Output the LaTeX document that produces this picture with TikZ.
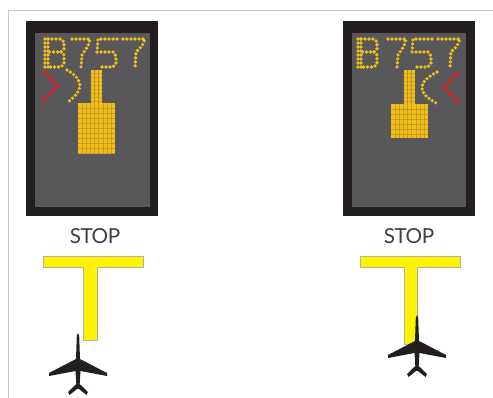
\documentclass[tikz,border=0pt]{standalone}
\usepackage{fontspec}
\setmainfont{Lato}
\definecolor{amber}{HTML}{F2BE1A}
\definecolor{amberdark}{HTML}{B8901E}
\definecolor{panelgray}{HTML}{58585A}
\definecolor{framedark}{HTML}{231F20}
\definecolor{stopyellow}{HTML}{FFF200}
\definecolor{chevred}{HTML}{D9202E}
\tikzset{
  dots/.style={amber,line width=2.7,line cap=round,dash pattern=on 0pt off 3pt},
  redline/.style={chevred,line width=1.3},
  reddots/.style={chevred,line width=3,line cap=round,dash pattern=on 0pt off 7pt},
  gridline/.style={amberdark,line width=0.5},
  stoplabel/.style={font=\fontsize{15.5}{15.5}\selectfont\addfontfeatures{LetterSpace=-2},text=black!75,inner sep=0pt},
  planefill/.style={fill=framedark,draw=none}
}
\newcommand{\signpanel}[1]{%
  \fill[framedark] (#1,21) rectangle ++(132,195.5);
  \fill[panelgray] (#1+9,33) rectangle ++(114.5,174);
}
\newcommand{\digits}[4]{%
  % B
  \draw[dots] (#1+1,39)--(#1+1,67);
  \draw[dots] (#1+4,39)--(#1+4,67);
  \draw[dots] (#1+4,39)--(#1+17,39)--(#1+20,42)--(#1+20,49)--(#1+17,52)--(#1+4,52);
  \draw[dots] (#1+17,52)--(#1+20,55)--(#1+20,64)--(#1+17,67)--(#1+4,67);
  % 7
  \draw[dots] (#2,39)--(#2+18,39)--(#2+16,46)--(#2+10,55)--(#2+9,67);
  % 5
  \draw[dots] (#3+22,39)--(#3+3,39)--(#3+2,52)--(#3+18,52)--(#3+21,56)--(#3+21,63)--(#3+18,67)--(#3+6,67);
  % 7
  \draw[dots] (#4,39)--(#4+22,39)--(#4+19,46)--(#4+13,52)--(#4+12,68);
}
\newcommand{\stand}[3]{%
  \fill[amber] (#1,70) rectangle (#1+11,#2);
  \foreach \dx in {3.6,7.3}{\draw[gridline] (#1+\dx,70)--(#1+\dx,#2);}
  \foreach \dy in {73,77,...,101}{\draw[gridline,opacity=.5] (#1,\dy)--(#1+11,\dy);}
  \fill[amber] (#1-13,#2) rectangle (#1+24,#3);
  \foreach \dx in {-9,-5,-1,3.6,7.3,12,16,20}{\draw[gridline,opacity=.7] (#1+\dx,#2)--(#1+\dx,#3);}
  \foreach \dy in {5,10,...,50}{\ifdim \dy pt<\dimexpr #3pt-#2pt\relax
     \draw[gridline,opacity=.7] (#1-13,#2+\dy)--(#1+24,#2+\dy);\fi}
}
\newcommand{\planeshape}[2]{%
  \fill[planefill] (#1-1.2,#2+3) -- (#1,#2) -- (#1+1.2,#2+3) -- (#1+2,#2+26)
    -- (#1+29,#2+40) -- (#1+29,#2+43) -- (#1+2.5,#2+38) -- (#1+1.7,#2+51)
    -- (#1+10,#2+59) -- (#1+8.5,#2+62) -- (#1+1,#2+56) -- (#1-1,#2+56)
    -- (#1-8.5,#2+62) -- (#1-10,#2+59) -- (#1-1.7,#2+51) -- (#1-2.5,#2+38)
    -- (#1-29,#2+43) -- (#1-29,#2+40) -- (#1-2,#2+26) -- cycle;
}
\begin{document}
\begin{tikzpicture}[x=0.75pt,y=-0.75pt]
\useasboundingbox (0,0) rectangle (493,398);
\begin{scope}
\clip (0,0) rectangle (493,398);
\fill[white] (0,0) rectangle (493,398);
% page rule
\draw[black!22,line width=1.1] (8.5,398)--(8.5,10.5)--(493,10.5);
% left sign
\signpanel{26}
\digits{44}{72}{95}{123}
\stand{91}{103}{154}
\draw[dots] (67,70)..controls (84,80) and (84,90)..(68,102);
\draw[redline] (43,71)--(57,86)--(42,102);
\draw[reddots] (57,86)--(43,71) (57,86)--(42,102);
% right sign
\signpanel{342.5}
\digits{357}{388}{410}{438}
\stand{404}{104}{138}
\draw[dots] (437,72)..controls (418,82) and (416,92)..(436,103);
\draw[redline] (459,72)--(444,87)--(459,103);
\draw[reddots] (444,87)--(459,72) (444,87)--(459,103);
% labels
\node[stoplabel] (stopL) at (95,236) {STOP};
\node[stoplabel] (stopR) at (409,236) {STOP};
% stop bars
\fill[stopyellow,draw=black!30,line width=0.4] (43,256)--(143,256)--(143,267)--(97,267)--(97,340)--(83,340)--(83,267)--(43,267)--cycle;
\fill[stopyellow,draw=black!30,line width=0.4] (360,256)--(460,256)--(460,267)--(417,267)--(417,344)--(404,344)--(404,267)--(360,267)--cycle;
% aircraft
\planeshape{78}{333}
\planeshape{417}{315}
\end{scope}
\end{tikzpicture}
\end{document}
